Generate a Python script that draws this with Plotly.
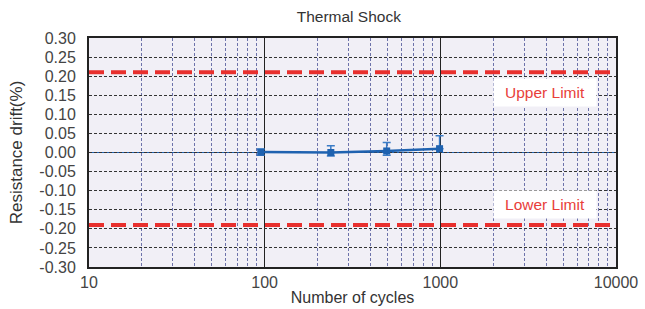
import plotly.graph_objects as go

# Data
cycles = [95, 238, 495, 990]
drift = [0.001, 0.000, 0.004, 0.010]
err_plus = [0.008, 0.018, 0.022, 0.034]
err_minus = [0.008, 0.009, 0.011, 0.0]

upper_limit = 0.21
lower_limit = -0.19
x_span = [10, 10000]

y_ticks = [-0.30, -0.25, -0.20, -0.15, -0.10, -0.05, 0.00, 0.05, 0.10, 0.15, 0.20, 0.25, 0.30]
y_ticktext = [f"{v:.2f}" for v in y_ticks]
x_ticks = [10, 100, 1000, 10000]
x_ticktext = ["10", "100", "1000", "10000"]

FONT = "Liberation Sans, Arial, sans-serif"
RED = "#e8302e"
BLUE = "#1f62b0"

fig = go.Figure()

for lim in (upper_limit, lower_limit):
    fig.add_trace(go.Scatter(
        x=x_span, y=[lim, lim], mode="lines",
        line=dict(color=RED, width=4, dash="15px,7px"),
        hoverinfo="skip", showlegend=False,
    ))

fig.add_trace(go.Scatter(
    x=cycles, y=drift, mode="lines+markers",
    line=dict(color=BLUE, width=2.5),
    marker=dict(symbol="square", size=7, color=BLUE),
    error_y=dict(type="data", symmetric=False, array=err_plus, arrayminus=err_minus,
                 color="#3b7cc6", thickness=1.5, width=4),
    showlegend=False,
))

fig.add_hline(y=0, line=dict(color=BLUE, width=1.2), layer="below")

fig.update_layout(
    width=645, height=309,
    margin=dict(l=89, r=29, t=38, b=42),
    paper_bgcolor="white",
    plot_bgcolor="#f1eff6",
    font=dict(family=FONT, size=16, color="#444444"),
    title=dict(text="Thermal Shock", xref="paper", x=0.493, xanchor="center",
               yref="container", y=1 - 17 / 309, yanchor="middle",
               font=dict(size=15.5, color="#333333")),
    showlegend=False,
)

fig.update_xaxes(
    type="log", range=[1, 4], automargin=False,
    tickvals=x_ticks, ticktext=x_ticktext,
    showgrid=True, gridcolor="#222222", gridwidth=1,
    minor=dict(showgrid=True, dtick="D1", gridcolor="#6d72aa", griddash="3px,2px", gridwidth=1),
    showline=True, linecolor="#222222", linewidth=2, mirror=True,
    ticks="", zeroline=False,
    tickfont=dict(size=16, color="#444444"),
    title=dict(text="Number of cycles", standoff=2, font=dict(size=16, color="#333333")),
)

fig.update_yaxes(
    range=[-0.30, 0.30], automargin=False,
    tickvals=y_ticks, ticktext=y_ticktext,
    showgrid=True, gridcolor="#333333", griddash="3px,2px", gridwidth=1,
    zeroline=False,
    showline=True, linecolor="#222222", linewidth=2, mirror=True,
    ticks="", ticklabelstandoff=8,
    tickfont=dict(size=16, color="#444444"),
    title=dict(text="Resistance drift(%)", standoff=12, font=dict(size=17, color="#333333")),
)

for txt, yv in (("Upper Limit", 0.156), ("Lower Limit", -0.136)):
    fig.add_annotation(
        x=0.865, xref="paper", y=yv, yref="y",
        text=txt, showarrow=False,
        font=dict(size=15.5, color="#e8403a", family=FONT),
        bgcolor="white", width=100, height=25,
        xanchor="center", yanchor="middle",
    )

fig.write_html(
    "out.html",
    config={"displayModeBar": False},
    post_script="document.body.style.margin='0';document.body.style.padding='0';",
)
